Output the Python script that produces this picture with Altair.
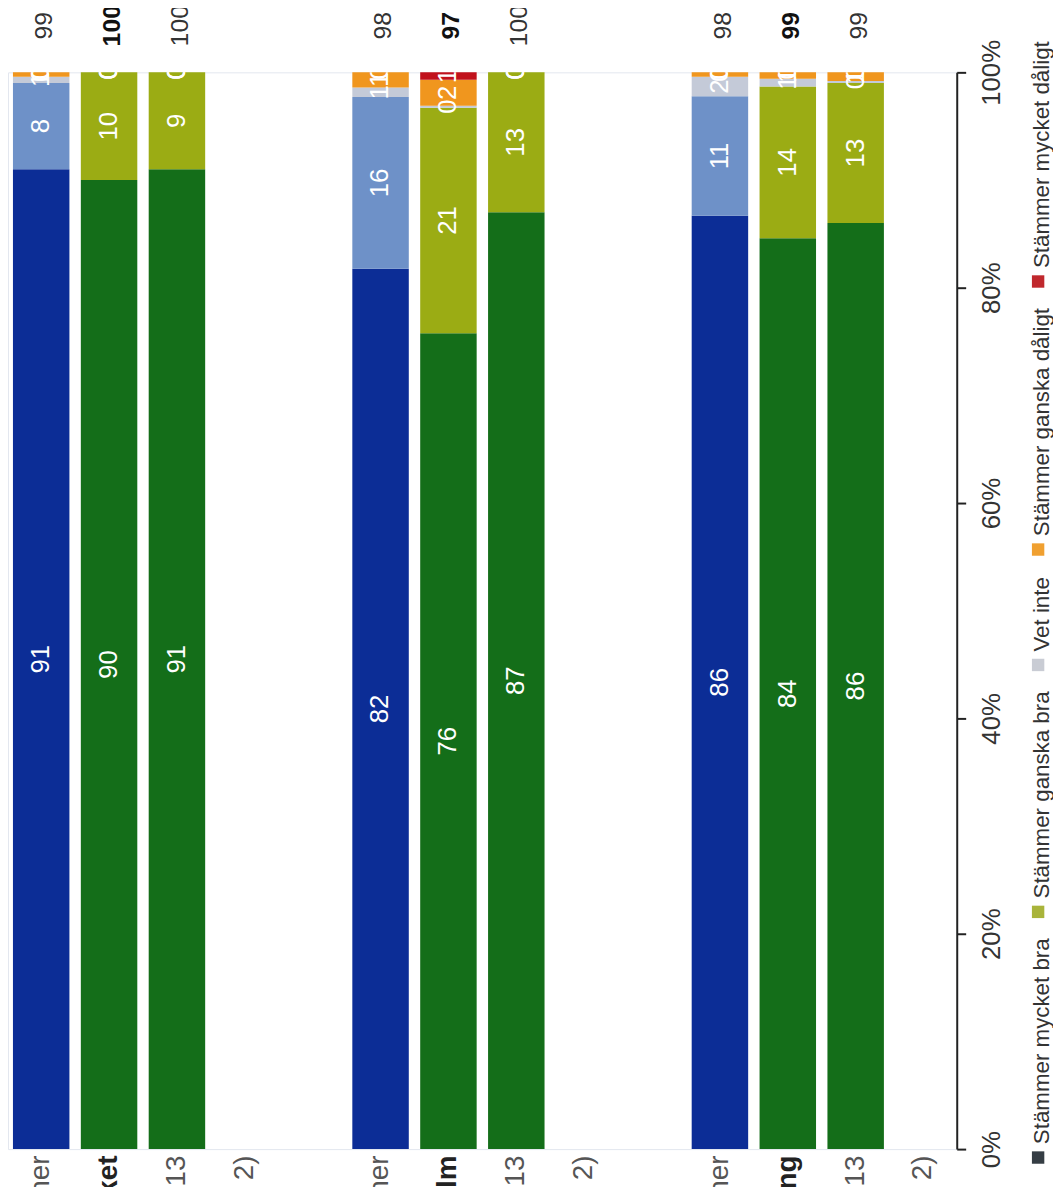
import altair as alt
import pandas as pd

FONT = "Liberation Sans"

# ---- categories (rows of the original horizontal chart, shown here as columns) ----
row_keys = [f"r{i:02d}" for i in range(1, 15)]
row_labels = [
    "Samtliga kommuner", "Riket", "Riket 2013", "Skillnad mot 2013 2)", "",
    "Samtliga kommuner", "Stockholm", "Stockholm 2013", "Skillnad mot 2013 2)", "",
    "Samtliga kommuner", "Linköping", "Linköping 2013", "Skillnad mot 2013 2)",
]
bold_rows = ["r02", "r07", "r12"]

bar_rows = ["r01", "r02", "r03", "r06", "r07", "r08", "r11", "r12", "r13"]
bar_kind = ["blue", "green", "green", "blue", "green", "green", "blue", "green", "green"]

seg_names = ["Stämmer mycket bra", "Stämmer ganska bra", "Vet inte",
             "Stämmer ganska dåligt", "Stämmer mycket dåligt"]
mycket_bra = [91, 90, 91, 82, 76, 87, 86, 84, 86]
ganska_bra = [8, 10, 9, 16, 21, 13, 11, 14, 13]
vet_inte = [0.6, 0, 0, 0.9, 0.2, 0, 1.8, 0.7, 0.2]
ganska_daligt = [0.4, 0, 0, 1.4, 2.4, 0, 0.4, 0.6, 0.8]
mycket_daligt = [0, 0, 0, 0, 0.7, 0, 0, 0, 0]
totals = [99, 100, 100, 98, 97, 100, 98, 99, 99]

palettes = {
    "blue": ["#0c2d96", "#6e91c8", "#c4cad8", "#f0961e", "#c1121c"],
    "green": ["#146e19", "#9bac14", "#c4cad8", "#f0961e", "#c1121c"],
}
legend_colors = ["#353d44", "#a9b43a", "#c9ccd4", "#f0a030", "#c0282d"]

# ---- tables ----
series = [mycket_bra, ganska_bra, vet_inte, ganska_daligt, mycket_daligt]
records = []
for i, row in enumerate(bar_rows):
    for j, seg in enumerate(seg_names):
        records.append({"row": row, "seg": seg, "order": j,
                         "value": series[j][i],
                         "color": palettes[bar_kind[i]][j]})
df = pd.DataFrame(records)

tot_df = pd.DataFrame({"row": bar_rows, "total": totals,
                       "bold": [r in bold_rows for r in bar_rows]})

# legend laid out like a flowing legend (text width estimated from Arial metrics)
char_w = {"S": .667, "t": .278, "ä": .556, "m": .833, "e": .556, "r": .333, " ": .278,
          "y": .5, "c": .5, "k": .5, "b": .556, "a": .556, "g": .556, "n": .556,
          "s": .5, "V": .667, "i": .222, "d": .556, "å": .556, "l": .222}
LEG_FS = 22.5
cursor = 1100.0
leg_rows = []
for name, col in zip(seg_names, legend_colors):
    sy = cursor - 6.5
    ty = cursor - 20
    w = sum(char_w.get(ch, 0.55) for ch in name) * LEG_FS
    leg_rows.append({"label": name, "color": col, "sx": 1038, "sy": sy, "tx": 1042, "ty": ty})
    cursor = ty - w - 20
leg_df = pd.DataFrame(leg_rows)

# ---- encodings ----
bold_test = "indexof([" + ",".join(f"'{k}'" for k in bold_rows) + "], datum.value) >= 0"
label_expr = ("[" + ",".join(f"'{l}'" for l in row_labels) + "][indexof(["
              + ",".join(f"'{k}'" for k in row_keys) + "], datum.value)]")

x_axis = alt.Axis(
    orient="bottom", title=None, labelAngle=270, labelAlign="right",
    labelBaseline="middle", labelPadding=6, ticks=False, tickSize=0, domain=False,
    labelExpr=label_expr, labelFont=FONT, labelFontSize=28, labelLimit=1000,
    labelOverlap=False,
    labelColor={"condition": {"test": bold_test, "value": "#222222"}, "value": "#555555"},
    labelFontWeight={"condition": {"test": bold_test, "value": "bold"}, "value": "normal"},
)
y_axis = alt.Axis(
    orient="right", title=None, values=[0, 0.2, 0.4, 0.6, 0.8, 1.0], format=".0%",
    labelAngle=270, labelAlign="center", labelBaseline="top", labelPadding=13,
    tickSize=9, tickWidth=2, tickColor="#222222", domainColor="#222222",
    domainWidth=2, grid=False, labelFont=FONT, labelFontSize=26,
    labelColor="#333333", labelFlush=False, labelOverlap=False,
)

x_scale = alt.Scale(domain=row_keys, paddingInner=0.168, paddingOuter=0.073)
y_scale = alt.Scale(domain=[0, 1], nice=False, zero=True)
X = alt.X("row:N", scale=x_scale, axis=x_axis)

base = alt.Chart(df).transform_joinaggregate(
    tot="sum(value)", groupby=["row"]
).transform_window(
    cum="sum(value)", sort=[alt.SortField("order", order="ascending")],
    groupby=["row"], frame=[None, 0]
).transform_calculate(
    y0="(datum.cum - datum.value) / datum.tot",
    y1="datum.cum / datum.tot",
    ym="(datum.cum - datum.value / 2) / datum.tot",
)

bars = base.mark_bar().encode(
    x=X,
    y=alt.Y("y0:Q", scale=y_scale, axis=y_axis),
    y2="y1:Q",
    color=alt.Color("color:N", scale=None),
)

seg_text = base.mark_text(
    angle=270, align="center", baseline="middle", font=FONT, fontSize=26,
    color="white", clip=True
).encode(
    x=X,
    y=alt.Y("ym:Q", scale=y_scale, axis=y_axis),
    text=alt.Text("value:Q", format=".0f"),
)

tot_norm = alt.Chart(tot_df).transform_filter("!datum.bold").mark_text(
    angle=270, align="center", baseline="middle", dx=47, dy=3,
    font=FONT, fontSize=25, color="#333333"
).encode(x=X, y=alt.datum(1), text=alt.Text("total:Q"))

tot_bold = alt.Chart(tot_df).transform_filter("datum.bold").mark_text(
    angle=270, align="center", baseline="middle", dx=47, dy=3,
    font=FONT, fontSize=25, fontWeight="bold", color="#111111"
).encode(x=X, y=alt.datum(1), text=alt.Text("total:Q"))

leg_sq = alt.Chart(leg_df).mark_square(size=156, opacity=1).encode(
    x=alt.X("sx:Q", scale=None),
    y=alt.Y("sy:Q", scale=None),
    color=alt.Color("color:N", scale=None),
)
leg_txt = alt.Chart(leg_df).mark_text(
    angle=270, align="left", baseline="middle", font=FONT, fontSize=LEG_FS,
    color="#333333"
).encode(
    x=alt.X("tx:Q", scale=None),
    y=alt.Y("ty:Q", scale=None),
    text="label:N",
)

chart = alt.layer(bars, seg_text, tot_norm, tot_bold, leg_sq, leg_txt).properties(
    width=956, height=1085,
    autosize=alt.AutoSizeParams(type="none"),
    padding={"left": 0, "top": 60, "right": 97, "bottom": 120},
    background="white",
).configure_view(stroke="#e3e7ef", strokeWidth=1)

chart.save("out.html", embed_options={"renderer": "svg", "actions": False})
